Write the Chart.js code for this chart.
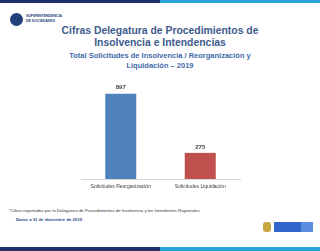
<!DOCTYPE html>
<html>
<head>
<meta charset="utf-8">
<script src="https://cdn.jsdelivr.net/npm/chart.js@4"></script>
<style>
  body { margin: 0; width: 320px; height: 251px; background: #fff; font-family: "Liberation Sans", Arial, sans-serif; position: relative; overflow: hidden; }
  .bar-top { position: absolute; top: 0; height: 3px; }
  .bar-bot { position: absolute; bottom: 0; height: 4px; }
  #titulo { position: absolute; top: 25px; left: 0; width: 320px; text-align: center; color: #3e5b8c; font-weight: bold; font-size: 10.4px; line-height: 12px; }
  #subtitulo { position: absolute; top: 51px; left: 0; width: 320px; text-align: center; color: #4169aa; font-weight: bold; font-size: 7.5px; line-height: 9.5px; }
  #chart-box { position: absolute; left: 60px; top: 80px; width: 200px; height: 115px; }
  #nota { position: absolute; top: 208px; left: 9px; font-size: 4.3px; color: #333; }
  #fecha { position: absolute; top: 217px; left: 16px; font-size: 4.3px; color: #2a4a8a; font-weight: bold; }
  #logo { position: absolute; left: 10px; top: 13px; width: 13px; height: 13px; border-radius: 50%; background: #23407a; }
  #logo-txt { position: absolute; left: 26px; top: 14px; font-size: 3.5px; font-weight: bold; color: #23407a; line-height: 4.5px; }
</style>
</head>
<body>
<div class="bar-top" style="left:0;width:160px;background:#1e2f6a"></div>
<div class="bar-top" style="left:160px;width:160px;background:#2aa3dc"></div>
<div id="logo"></div>
<div id="logo-txt">SUPERINTENDENCIA<br>DE SOCIEDADES</div>
<div id="titulo">Cifras Delegatura de Procedimientos de<br>Insolvencia e Intendencias</div>
<div id="subtitulo">Total Solicitudes de Insolvencia / Reorganización y<br>Liquidación – 2019</div>
<div id="chart-box"><canvas id="grafico"></canvas></div>
<div id="nota">*Cifras reportadas por la Delegatura de Procedimientos de Insolvencia y los Intendentes Regionales</div>
<div id="fecha">Datos a 31 de diciembre de 2019</div>
<div style="position:absolute;left:263px;top:222px;width:8px;height:10px;background:#c9a640;border-radius:3px"></div>
<div style="position:absolute;left:274px;top:222px;width:27px;height:10px;background:#3366cc"></div>
<div style="position:absolute;left:301px;top:222px;width:12px;height:10px;background:#5b8ee0"></div>
<div class="bar-bot" style="left:0;width:160px;background:#1e2f6a"></div>
<div class="bar-bot" style="left:160px;width:160px;background:#2aa3dc"></div>

<script>
const categorias = ['Solicitudes Reorganización', 'Solicitudes Liquidación'];
const valores = [897, 275];
const colores = ['#4f81bd', '#c0504d'];

// etiquetas encima de cada barra
const etiquetas = {
  id: 'etiquetas',
  afterDatasetsDraw(chart) {
    const ctx = chart.ctx;
    const meta = chart.getDatasetMeta(0);
    ctx.save();
    ctx.font = 'bold 6px "Liberation Sans", Arial';
    ctx.fillStyle = '#404040';
    ctx.textAlign = 'center';
    ctx.textBaseline = 'bottom';
    meta.data.forEach((bar, i) => {
      ctx.fillText(valores[i], bar.x, bar.y - 3);
    });
    ctx.restore();
  }
};

new Chart(document.getElementById('grafico'), {
  type: 'bar',
  data: {
    labels: categorias,
    datasets: [{
      data: valores,
      backgroundColor: colores,
      barPercentage: 0.78,
      categoryPercentage: 0.5
    }]
  },
  options: {
    responsive: true,
    maintainAspectRatio: false,
    animation: false,
    layout: { padding: { left: 21, right: 20, top: 4, bottom: 0 } },
    plugins: { legend: { display: false }, tooltip: { enabled: false } },
    scales: {
      x: {
        grid: { display: false, drawTicks: false },
        border: { color: '#d9d9d9' },
        ticks: { color: '#404040', font: { size: 5 }, padding: 5 }
      },
      y: { display: false, min: 0, max: 1000 }
    }
  },
  plugins: [etiquetas]
});
</script>
</body>
</html>
